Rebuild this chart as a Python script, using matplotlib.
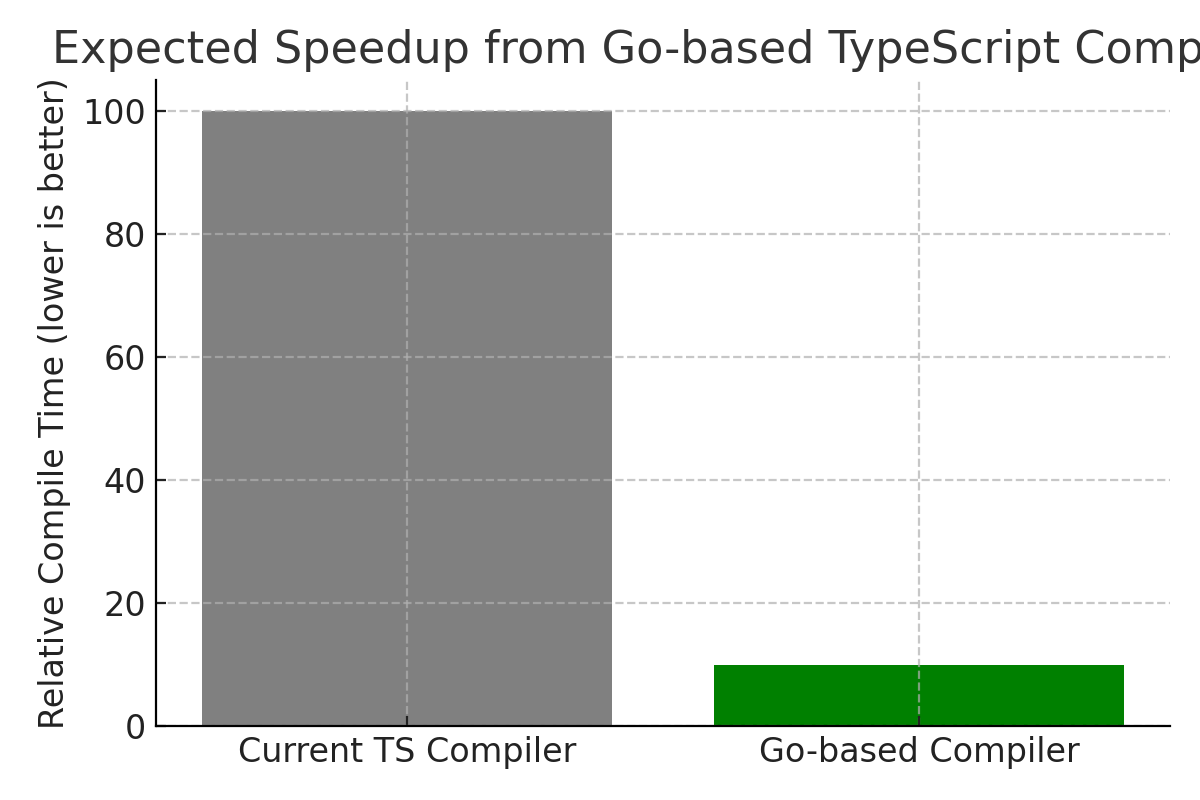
import matplotlib.pyplot as plt

compilers = ['Current TS Compiler', 'Go-based Compiler']
compile_time = [100, 10]
colors = ['gray', 'green']

fig, ax = plt.subplots(figsize=(6, 4), dpi=200)
ax.bar(compilers, compile_time, color=colors, width=0.8)
ax.set_title("Expected Speedup from Go-based TypeScript Compiler", fontsize=16, color='#333333')
ax.set_ylabel("Relative Compile Time (lower is better)", fontsize=12, color='#222222')
ax.tick_params(labelsize=12, colors='#222222', direction='in')
ax.set_ylim(0, 105)
ax.grid(True, linestyle='--', alpha=0.7)
ax.spines['top'].set_visible(False)
ax.spines['right'].set_visible(False)
plt.subplots_adjust(left=0.13, right=0.975, top=0.9, bottom=0.092)
plt.savefig("out.png")
